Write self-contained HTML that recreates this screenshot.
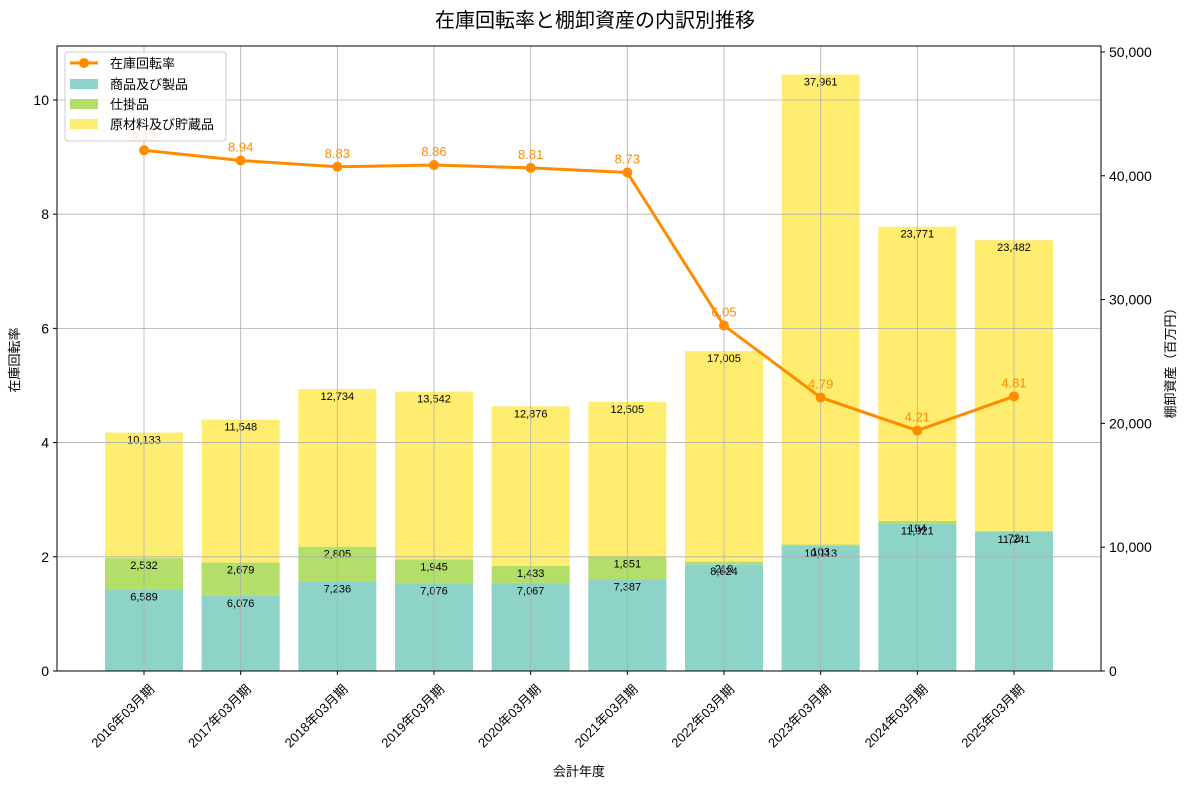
<!DOCTYPE html>
<html><head><meta charset="utf-8"><style>
body{margin:0;background:#fff}
svg{display:block;font-family:"Liberation Sans","Noto Sans CJK JP",sans-serif}
</style></head><body>
<svg id="c" width="1189" height="789" xmlns="http://www.w3.org/2000/svg">
<text x="595" y="27" font-size="20" text-anchor="middle">在庫回転率と棚卸資産の内訳別推移</text>
<g id="bars"></g><g id="grid"></g><g id="line"></g><g id="axes"></g>
</svg>
<script>
const categories=["2016年03月期","2017年03月期","2018年03月期","2019年03月期","2020年03月期","2021年03月期","2022年03月期","2023年03月期","2024年03月期","2025年03月期"];
const goods=[6589,6076,7236,7076,7067,7387,8624,10113,11921,11241];
const wip=[2532,2679,2805,1945,1433,1851,210,103,194,72];
const raw=[10133,11548,12734,13542,12876,12505,17005,37961,23771,23482];
const turnover=[9.12,8.94,8.83,8.86,8.81,8.73,6.05,4.79,4.21,4.81];
const leftTicks=[0,2,4,6,8,10];
const rightTicks=[0,10000,20000,30000,40000,50000];
const NS="http://www.w3.org/2000/svg";
const L=57,R=1101,T=46,B=671;
const xs=i=>L+(i+0.9)*(R-L)/10.8;
const yl=v=>B-v*(B-T)/10.945;
const yr=v=>B-v*(B-T)/50480;
function mk(p,tag,a,txt){const e=document.createElementNS(NS,tag);for(const k in a)e.setAttribute(k,a[k]);if(txt!==undefined)e.textContent=txt;document.getElementById(p).appendChild(e);return e;}
const colors=["#8dd3c7","#b3de69","#ffed6f"],series=[goods,wip,raw],names=["goods","wip","raw"];
const bw=78;
categories.forEach((c,i)=>{let base=0;
 series.forEach((s,k)=>{const y0=yr(base),y1=yr(base+s[i]);
  const r=mk("bars","rect",{x:xs(i)-bw/2,y:y1,width:bw,height:y0-y1,fill:colors[k]});
  
  
  const t=mk("bars","text",{x:xs(i),y:y1+11,"font-size":11,"text-anchor":"middle"},s[i].toLocaleString("en-US"));
  
  
  base+=s[i];});
});
categories.forEach((c,i)=>{const g=mk("grid","line",{x1:xs(i),x2:xs(i),y1:T,y2:B,stroke:"#b0b0b0","stroke-width":0.8});
 
 });
leftTicks.forEach(v=>{const g=mk("grid","line",{x1:L,x2:R,y1:yl(v),y2:yl(v),stroke:"#b0b0b0","stroke-width":0.8});
 
 });
const pts=turnover.map((v,i)=>xs(i)+","+yl(v)).join(" ");
const pl=mk("line","polyline",{points:pts,fill:"none",stroke:"#ff8c00","stroke-width":3});


turnover.forEach((v,i)=>{const c=mk("line","circle",{cx:xs(i),cy:yl(v),r:5,fill:"#ff8c00"});
 
 
 const t=mk("line","text",{x:xs(i),y:yl(v)-9,"font-size":13,fill:"#ff8c00","text-anchor":"middle"},v.toFixed(2));
 
 });
mk("axes","rect",{x:L,y:T,width:R-L,height:B-T,fill:"none",stroke:"#000","stroke-width":1});
leftTicks.forEach(v=>{mk("axes","line",{x1:L-4,x2:L,y1:yl(v),y2:yl(v),stroke:"#000"});
 const t=mk("axes","text",{x:L-8,y:yl(v)+5,"font-size":14,"text-anchor":"end"},String(v));
 
 });
rightTicks.forEach(v=>{mk("axes","line",{x1:R,x2:R+4,y1:yr(v),y2:yr(v),stroke:"#000"});
 const t=mk("axes","text",{x:R+8,y:yr(v)+5,"font-size":14},v.toLocaleString("en-US"));
 
 });
categories.forEach((c,i)=>{mk("axes","line",{x1:xs(i),x2:xs(i),y1:B,y2:B+4,stroke:"#000"});
 const x=xs(i)+4,y=B+12;
 const t=mk("axes","text",{x:x,y:y+10,"font-size":13,"text-anchor":"end",transform:`rotate(-45 ${x} ${y})`},c);
 
 });
</script>
<svg style="position:absolute;left:0;top:0" width="1189" height="789" xmlns="http://www.w3.org/2000/svg">
<text x="579" y="776" font-size="13" text-anchor="middle" font-family="Liberation Sans,Noto Sans CJK JP,sans-serif">会計年度</text>
<text transform="translate(19 360) rotate(-90)" font-size="13" text-anchor="middle" font-family="Liberation Sans,Noto Sans CJK JP,sans-serif">在庫回転率</text>
<text transform="translate(1175 360) rotate(-90)" font-size="13" text-anchor="middle" font-family="Liberation Sans,Noto Sans CJK JP,sans-serif">棚卸資産（百万円）</text>
<g font-family="Liberation Sans,Noto Sans CJK JP,sans-serif" font-size="13">
<rect x="65" y="52" width="161" height="89" rx="3" fill="#fff" fill-opacity="0.8" stroke="#ccc"/>
<line x1="70" y1="63" x2="98" y2="63" stroke="#ff8c00" stroke-width="3"/><circle cx="84" cy="63" r="5" fill="#ff8c00"/>
<text x="110" y="68">在庫回転率</text>
<rect x="70" y="79" width="28" height="10" fill="#8dd3c7"/><text x="110" y="89">商品及び製品</text>
<rect x="70" y="99" width="28" height="10" fill="#b3de69"/><text x="110" y="109">仕掛品</text>
<rect x="70" y="119" width="28" height="10" fill="#ffed6f"/><text x="110" y="129">原材料及び貯蔵品</text>
</g>
</svg>
</body></html>
